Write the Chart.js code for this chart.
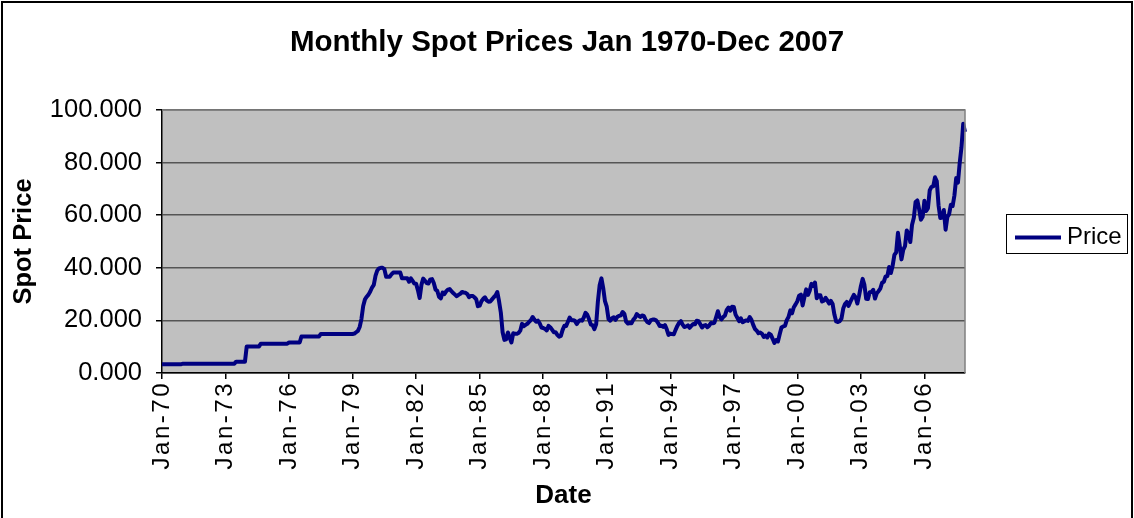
<!DOCTYPE html>
<html>
<head>
<meta charset="utf-8">
<script src="https://cdn.jsdelivr.net/npm/chart.js@4.4.0/dist/chart.umd.min.js"></script>
<style>
  html, body { margin: 0; padding: 0; background: #fff; }
  canvas { display: block; }
</style>
</head>
<body>
<canvas id="c" width="1134" height="518"></canvas>
<script>
// ---- Data (monthly spot prices) ----
const years = [];
for (let y = 1970; y <= 2007; y++) years.push(y);
const monthNames = ["Jan","Feb","Mar","Apr","May","Jun","Jul","Aug","Sep","Oct","Nov","Dec"];

const prices1970s = [
  3.35,3.35,3.35,3.35,3.35,3.35,3.35,3.35,3.35,3.35,3.35,3.35,
  3.56,3.56,3.56,3.56,3.56,3.56,3.56,3.56,3.56,3.56,3.56,3.56,
  3.56,3.56,3.56,3.56,3.56,3.56,3.56,3.56,3.56,3.56,3.56,3.56,
  3.56,3.56,3.56,3.56,3.56,3.56,4.31,4.31,4.31,4.31,4.31,4.31,
  10.11,10.11,10.11,10.11,10.11,10.11,10.11,10.11,11.16,11.16,11.16,11.16,
  11.16,11.16,11.16,11.16,11.16,11.16,11.16,11.16,11.16,11.16,11.16,11.16,
  11.6,11.6,11.6,11.6,11.6,11.6,11.6,13.9,13.9,13.9,13.9,13.9,
  13.9,13.9,13.9,13.9,13.9,13.9,14.85,14.85,14.85,14.85,14.85,14.85,
  14.85,14.85,14.85,14.85,14.85,14.85,14.85,14.85,14.85,14.85,14.85,14.85,
  14.85,15.0,15.5,16.0,17.5,20.5,25.5,28.0,29.0,29.8,31.0,32.5
];
const prices1980s = [
  33.5,37.0,39.0,39.8,40.0,40.0,39.5,36.6,36.6,36.6,37.5,38.2,
  38.2,38.2,38.2,38.2,36.0,36.0,36.0,36.0,34.7,36.0,35.0,34.0,
  33.9,31.5,28.5,33.5,35.9,35.1,34.2,34.0,35.6,35.7,34.2,31.7,
  31.2,28.9,28.4,30.6,30.0,31.0,31.7,31.9,31.1,30.4,29.8,29.2,
  29.7,30.1,30.8,30.6,30.5,30.0,28.8,29.3,29.3,28.8,28.1,25.4,
  25.6,27.3,28.2,28.8,27.6,27.1,27.2,28.0,28.8,29.5,30.8,27.2,
  22.9,15.5,12.6,12.8,15.4,13.4,11.6,15.1,14.9,14.9,15.2,16.1,
  18.7,17.8,18.3,18.7,19.4,20.1,21.3,20.3,19.5,19.9,18.9,17.3,
  17.1,16.8,16.2,17.9,17.4,16.5,15.5,15.5,14.5,13.8,14.1,16.4,
  18.0,17.9,19.5,21.1,20.1,20.1,19.8,18.6,19.6,20.1,19.9,21.1
];
const prices1990s = [
  22.9,22.1,20.4,18.4,18.2,16.7,18.5,27.3,33.5,36.0,32.3,27.3,
  25.2,20.5,19.9,20.8,21.2,20.2,21.4,21.7,21.9,23.2,22.5,19.5,
  18.8,19.0,18.9,20.2,21.0,22.4,21.8,21.3,21.9,21.7,20.3,19.4,
  19.0,20.1,20.3,20.3,20.0,19.1,17.9,18.0,17.5,18.2,16.6,14.5,
  15.0,14.8,14.7,16.4,17.9,19.1,19.7,18.4,17.5,17.7,18.1,17.2,
  18.0,18.6,18.5,19.9,19.7,18.5,17.3,18.0,18.2,17.4,18.0,19.0,
  18.9,19.1,21.3,23.5,21.2,20.4,21.3,21.9,24.0,24.9,23.7,25.2,
  25.1,22.2,21.0,19.7,20.8,19.3,19.7,20.0,19.8,21.3,20.2,18.3,
  16.7,16.1,15.1,15.4,14.9,13.7,14.2,13.5,15.0,14.5,13.0,11.4,
  12.5,12.0,14.7,17.3,17.7,17.9,20.1,21.3,23.8,22.7,25.0,26.1
];
const prices2000s = [
  27.3,29.4,29.8,25.7,28.8,31.8,29.7,31.3,33.9,33.1,34.4,28.4,
  29.6,29.6,27.2,27.5,28.6,27.6,26.4,27.4,26.2,22.2,19.6,19.4,
  19.7,20.7,24.5,26.2,27.0,25.5,27.0,28.4,29.7,28.8,26.4,29.5,
  33.0,35.8,33.5,28.2,28.1,30.7,30.8,31.6,28.3,30.3,31.1,32.1,
  34.3,34.7,36.7,36.8,40.3,38.0,40.8,44.9,45.9,53.3,48.5,43.2,
  46.8,48.2,54.2,53.0,49.8,56.4,59.0,65.0,65.6,62.3,58.3,59.4,
  65.5,61.6,62.7,69.4,70.8,71.0,74.4,73.0,63.8,58.9,59.1,62.0,
  54.5,59.3,60.4,64.0,63.5,67.5,74.1,72.4,79.9,85.8,94.8,91.7
];
const prices = prices1970s.concat(prices1980s, prices1990s, prices2000s);

const yTicks = [0, 20, 40, 60, 80, 100];
const chartTitle = 'Monthly Spot Prices Jan 1970-Dec 2007';

// category labels like "Jan-70"
const categories = [];
years.forEach(y => monthNames.forEach(m => categories.push(m + "-" + String(y).slice(2))));

const FONT = "'Liberation Sans', Arial, sans-serif";

const frame = {
  id: 'frame',
  beforeDraw(chart) {
    const ctx = chart.ctx;
    const a = chart.chartArea;
    ctx.save();
    ctx.fillStyle = '#ffffff';
    ctx.fillRect(0, 0, chart.width, chart.height);
    ctx.strokeStyle = '#000';
    ctx.lineWidth = 2;
    ctx.strokeRect(2, 2, chart.width - 4, chart.height + 10);
    ctx.fillStyle = '#c0c0c0';
    ctx.fillRect(a.left, a.top, a.right - a.left, a.bottom - a.top);
    // title centred on the whole chart
    ctx.fillStyle = '#000';
    ctx.font = "bold 29.5px " + FONT;
    ctx.textAlign = 'center';
    ctx.textBaseline = 'alphabetic';
    ctx.fillText(chartTitle, chart.width / 2, 51);
    ctx.restore();
    // letter-spaced category labels
    const xs = chart.scales.x;
    if (xs && !xs._spaced) {
      const orig = xs.drawLabels;
      xs.drawLabels = function (area) {
        const c = this.ctx;
        c.save();
        c.letterSpacing = '2.5px';
        orig.call(this, area);
        c.restore();
      };
      xs._spaced = true;
    }
  },
  afterDatasetsDraw(chart) {
    const ctx = chart.ctx;
    const a = chart.chartArea;
    ctx.save();
    ctx.strokeStyle = '#808080';
    ctx.lineWidth = 1.5;
    ctx.beginPath();
    ctx.moveTo(a.left, a.top);
    ctx.lineTo(a.right, a.top);
    ctx.lineTo(a.right, a.bottom);
    ctx.stroke();
    // legend
    const ds = chart.data.datasets[0];
    ctx.strokeStyle = '#000';
    ctx.lineWidth = 1;
    ctx.strokeRect(1006.5, 214.5, 121, 39);
    ctx.strokeStyle = ds.borderColor;
    ctx.lineWidth = 4;
    ctx.beginPath();
    ctx.moveTo(1015, 237.5);
    ctx.lineTo(1061, 237.5);
    ctx.stroke();
    ctx.fillStyle = '#000';
    ctx.font = "24px " + FONT;
    ctx.textBaseline = 'alphabetic';
    ctx.textAlign = 'left';
    ctx.fillText(ds.label, 1067, 243.5);
    ctx.restore();
  }
};

new Chart(document.getElementById('c'), {
  type: 'line',
  data: {
    labels: categories,
    datasets: [{
      label: 'Price',
      data: prices,
      borderColor: '#000080',
      borderWidth: 4,
      pointRadius: 0,
      tension: 0,
      borderJoinStyle: 'round',
      fill: false
    }]
  },
  options: {
    responsive: false,
    animation: false,
    events: [],
    layout: { padding: { left: 0, right: 169, top: 110, bottom: 0 } },
    plugins: {
      legend: { display: false },
      tooltip: { enabled: false },
      title: { display: false }
    },
    scales: {
      x: {
        type: 'category',
        offset: false,
        afterFit(scale) { scale.height = 145; },
        grid: { display: true, drawOnChartArea: false, drawTicks: true, tickLength: 6, color: '#000', lineWidth: 1.5 },
        border: { display: true, color: '#000', width: 1.5 },
        ticks: {
          autoSkip: false,
          maxRotation: 90,
          minRotation: 90,
          padding: 2,
          color: '#000',
          font: { family: FONT, size: 24 },
          callback(value, index) { return index % 36 === 0 ? categories[index] : null; }
        },
        title: {
          display: true,
          text: 'Date',
          color: '#000',
          font: { family: FONT, size: 26, weight: 'bold', lineHeight: 1.2 },
          padding: { top: 0, bottom: 6.5 }
        }
      },
      y: {
        min: 0,
        max: 100,
        afterFit(scale) { scale.width = 162; },
        afterBuildTicks(scale) { scale.ticks = yTicks.map(v => ({ value: v })); },
        grid: { color: '#555555', lineWidth: 1.5, tickColor: '#000', tickLength: 6 },
        border: { display: true, color: '#000', width: 1.5 },
        ticks: {
          padding: 14,
          color: '#000',
          font: { family: FONT, size: 25.5 },
          callback(v) { return Number(v).toFixed(3); }
        },
        title: {
          display: true,
          text: 'Spot Price',
          color: '#000',
          font: { family: FONT, size: 25.5, weight: 'bold', lineHeight: 1.2 },
          padding: { top: 8.5, bottom: 0 }
        }
      }
    }
  },
  plugins: [frame]
});
</script>
</body>
</html>
